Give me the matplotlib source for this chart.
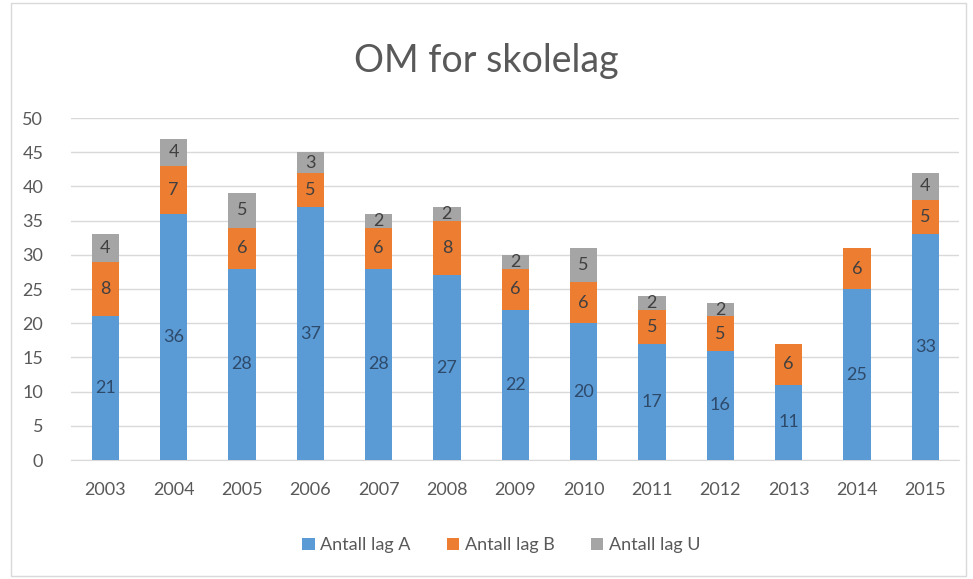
import matplotlib.pyplot as plt
from matplotlib.patches import Rectangle

years = ['2003', '2004', '2005', '2006', '2007', '2008', '2009',
         '2010', '2011', '2012', '2013', '2014', '2015']
lag_a = [21, 36, 28, 37, 28, 27, 22, 20, 17, 16, 11, 25, 33]
lag_b = [8, 7, 6, 5, 6, 8, 6, 6, 5, 5, 6, 6, 5]
lag_u = [4, 4, 5, 3, 2, 2, 2, 5, 2, 2, 0, 0, 4]

plt.rcParams['font.family'] = ['Lato', 'DejaVu Sans']
txt = '#595959'

fig = plt.figure(figsize=(9.73, 5.79), dpi=100)
ax = fig.add_axes([0.073, 0.2055, 0.913, 0.5905])
fig.patches.append(Rectangle((0.011, 0.005), 0.982, 0.99, transform=fig.transFigure,
                             fill=False, edgecolor='#d9d9d9', linewidth=1))

x = range(len(years))
bottom_b = [a for a in lag_a]
bottom_u = [a + b for a, b in zip(lag_a, lag_b)]
series = [
    (lag_a, [0] * len(years), '#5b9bd5', 'Antall lag A', '#2e4a6b'),
    (lag_b, bottom_b, '#ed7d31', 'Antall lag B', '#404040'),
    (lag_u, bottom_u, '#a5a5a5', 'Antall lag U', '#404040'),
]
for vals, bot, col, lab, tcol in series:
    bars = ax.bar(x, vals, bottom=bot, width=0.4, color=col, label=lab, zorder=3)
    for rect, v in zip(bars, vals):
        if v:
            ax.text(rect.get_x() + rect.get_width() / 2, rect.get_y() + v / 2, str(v),
                    ha='center', va='center', fontsize=13, color=tcol, zorder=4)

ax.set_xlim(-0.5, len(years) - 0.5)
ax.set_ylim(0, 50)
ax.set_yticks(range(0, 51, 5))
ax.set_xticks(list(x))
ax.set_xticklabels(years)
ax.grid(axis='y', color='#d9d9d9', linewidth=1, zorder=0)
for s in ['top', 'right', 'left']:
    ax.spines[s].set_visible(False)
ax.spines['bottom'].set_color('#d9d9d9')
ax.tick_params(length=0, labelsize=13, colors=txt)
ax.tick_params(axis='x', pad=16)
ax.tick_params(axis='y', pad=20)

fig.suptitle('OM for skolelag', fontsize=27, color=txt, y=0.925)
fig.legend(loc='center', bbox_to_anchor=(0.515, 0.058), ncol=3, frameon=False,
           fontsize=13, labelcolor=txt, handlelength=0.7, handleheight=0.7,
           handletextpad=0.3, columnspacing=2.0)

fig.savefig('out.png', dpi=100)
